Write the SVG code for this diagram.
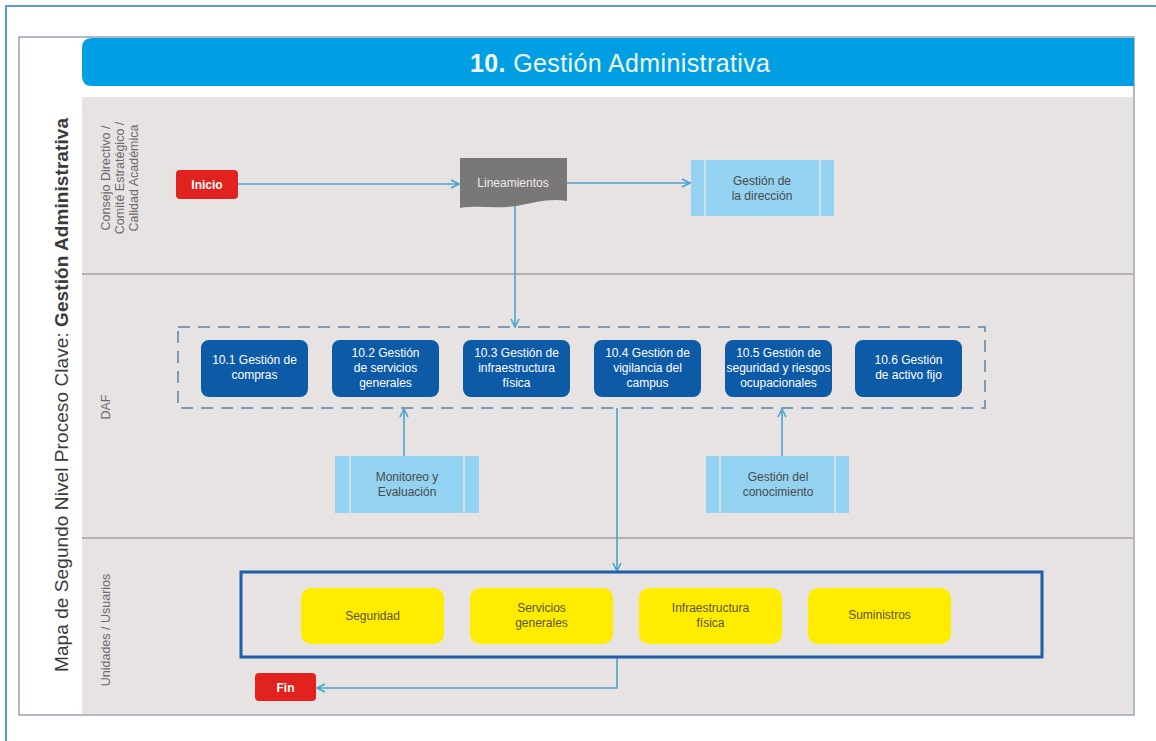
<svg xmlns="http://www.w3.org/2000/svg" width="1156" height="741" viewBox="0 0 1156 741">
  <style>
    text { font-family: "Liberation Sans", Arial, sans-serif; }
    .lane-label { font-size: 12.5px; fill: #6e6a6a; }
    .proc { fill: #0d5aa7; }
    .proc-text { font-size: 12px; fill: #ffffff; text-anchor: middle; }
    .sub { fill: #93d2f1; }
    .sub-line { stroke: #e6e3e2; stroke-width: 1.5; }
    .sub-text { font-size: 12px; fill: #4a4a4a; text-anchor: middle; }
    .unit { fill: #ffec00; }
    .unit-text { font-size: 12px; fill: #5c5430; text-anchor: middle; }
    .term { fill: #e2221f; }
    .term-text { font-size: 12px; font-weight: bold; fill: #ffffff; text-anchor: middle; }
    .flow { stroke: #4ba3d2; stroke-width: 1.6; fill: none; }
    .lane-sep { stroke: #a59f9e; stroke-width: 1.5; }
  </style>
  <defs>
    <marker id="arrow" viewBox="0 0 10 10" refX="9" refY="5" markerWidth="10" markerHeight="10" markerUnits="userSpaceOnUse" orient="auto">
      <path d="M1,1 L9,5 L1,9" fill="none" stroke="#4ba3d2" stroke-width="1.6"/>
    </marker>
  </defs>

  <!-- page background and outer frame -->
  <rect x="0" y="0" width="1156" height="741" fill="#ffffff"/>
  <path d="M6,741 V6 H1156" fill="none" stroke="#5b9bd5" stroke-width="2"/>

  <!-- sheet -->
  <rect x="19" y="37" width="1115" height="678" fill="#ffffff" stroke="#7d8c99" stroke-width="1.2"/>

  <!-- title bar -->
  <g id="title">
    <path d="M92,38 H1134 V86 H92 Q82,86 82,76 V48 Q82,38 92,38 Z" fill="#009fe3"/>
    <text x="620" y="72" font-size="25" fill="#eef8fd" text-anchor="middle" textLength="300"><tspan font-weight="bold">10.</tspan> Gestión Administrativa</text>
  </g>

  <!-- swimlane body -->
  <rect x="82" y="97" width="1051" height="617" fill="#e6e3e2"/>
  <line class="lane-sep" x1="82" y1="274" x2="1133" y2="274"/>
  <line class="lane-sep" x1="82" y1="538" x2="1133" y2="538"/>

  <!-- side title -->
  <text transform="translate(68,395) rotate(-90)" font-size="19" fill="#3a3a3a" text-anchor="middle" textLength="554">Mapa de Segundo Nivel Proceso Clave: <tspan font-weight="bold">Gestión Administrativa</tspan></text>

  <!-- lane labels -->
  <g id="lane-labels">
    <text class="lane-label" transform="translate(110,178) rotate(-90)" text-anchor="middle">Consejo Directivo /</text>
    <text class="lane-label" transform="translate(124,178) rotate(-90)" text-anchor="middle">Comité Estratégico /</text>
    <text class="lane-label" transform="translate(138,178) rotate(-90)" text-anchor="middle">Calidad Académica</text>
    <text class="lane-label" transform="translate(110,407) rotate(-90)" text-anchor="middle">DAF</text>
    <text class="lane-label" transform="translate(110,630) rotate(-90)" text-anchor="middle">Unidades / Usuarios</text>
  </g>

  <!-- connectors -->
  <g id="connectors">
    <line class="flow" x1="238" y1="184" x2="459" y2="184" marker-end="url(#arrow)"/>
    <line class="flow" x1="567" y1="183" x2="690" y2="183" marker-end="url(#arrow)"/>
    <line class="flow" x1="515" y1="206" x2="515" y2="327" marker-end="url(#arrow)"/>
    <line class="flow" x1="404" y1="456" x2="404" y2="409" marker-end="url(#arrow)"/>
    <line class="flow" x1="782" y1="456" x2="782" y2="409" marker-end="url(#arrow)"/>
    <line class="flow" x1="617" y1="408" x2="617" y2="571" marker-end="url(#arrow)"/>
    <polyline class="flow" points="617,658 617,688 317,688" marker-end="url(#arrow)"/>
  </g>

  <!-- start -->
  <g id="inicio">
    <rect class="term" x="176" y="170" width="62" height="29" rx="4"/>
    <text class="term-text" x="207" y="189">Inicio</text>
  </g>

  <!-- guidelines document -->
  <g id="lineamientos">
    <path d="M460,158 H567 V201 C548,198 535,203 516,206 C495,209 478,205 460,208 Z" fill="#7a7777"/>
    <text x="513" y="187" font-size="12" fill="#eeeeee" text-anchor="middle">Lineamientos</text>
  </g>

  <!-- management of direction -->
  <g id="gestion-direccion">
    <rect class="sub" x="691" y="160" width="143" height="56"/>
    <line class="sub-line" x1="705" y1="160" x2="705" y2="216"/>
    <line class="sub-line" x1="820" y1="160" x2="820" y2="216"/>
    <text class="sub-text" x="762" y="185">Gestión de</text>
    <text class="sub-text" x="762" y="200">la dirección</text>
  </g>

  <!-- DAF sub-process group -->
  <rect id="daf-group" x="178" y="327" width="807" height="81" fill="none" stroke="#7d9bb6" stroke-width="2" stroke-dasharray="12,8"/>

  <g id="p10-1">
    <rect class="proc" x="201" y="340" width="107" height="57" rx="8"/>
    <text class="proc-text" x="254.5" y="364">10.1 Gestión de</text>
    <text class="proc-text" x="254.5" y="379">compras</text>
  </g>
  <g id="p10-2">
    <rect class="proc" x="332" y="340" width="107" height="57" rx="8"/>
    <text class="proc-text" x="385.5" y="357">10.2 Gestión</text>
    <text class="proc-text" x="385.5" y="372">de servicios</text>
    <text class="proc-text" x="385.5" y="387">generales</text>
  </g>
  <g id="p10-3">
    <rect class="proc" x="463" y="340" width="107" height="57" rx="8"/>
    <text class="proc-text" x="516.5" y="357">10.3 Gestión de</text>
    <text class="proc-text" x="516.5" y="372">infraestructura</text>
    <text class="proc-text" x="516.5" y="387">física</text>
  </g>
  <g id="p10-4">
    <rect class="proc" x="594" y="340" width="107" height="57" rx="8"/>
    <text class="proc-text" x="647.5" y="357">10.4 Gestión de</text>
    <text class="proc-text" x="647.5" y="372">vigilancia del</text>
    <text class="proc-text" x="647.5" y="387">campus</text>
  </g>
  <g id="p10-5">
    <rect class="proc" x="725" y="340" width="107" height="57" rx="8"/>
    <text class="proc-text" x="778.5" y="357">10.5 Gestión de</text>
    <text class="proc-text" x="778.5" y="372" textLength="104">seguridad y riesgos</text>
    <text class="proc-text" x="778.5" y="387">ocupacionales</text>
  </g>
  <g id="p10-6">
    <rect class="proc" x="855" y="340" width="107" height="57" rx="8"/>
    <text class="proc-text" x="908.5" y="364">10.6 Gestión</text>
    <text class="proc-text" x="908.5" y="379">de activo fijo</text>
  </g>

  <!-- supporting processes -->
  <g id="monitoreo">
    <rect class="sub" x="335" y="456" width="144" height="57"/>
    <line class="sub-line" x1="350" y1="456" x2="350" y2="513"/>
    <line class="sub-line" x1="464" y1="456" x2="464" y2="513"/>
    <text class="sub-text" x="407" y="481">Monitoreo y</text>
    <text class="sub-text" x="407" y="496">Evaluación</text>
  </g>
  <g id="conocimiento">
    <rect class="sub" x="706" y="456" width="143" height="57"/>
    <line class="sub-line" x1="720" y1="456" x2="720" y2="513"/>
    <line class="sub-line" x1="835" y1="456" x2="835" y2="513"/>
    <text class="sub-text" x="778" y="481">Gestión del</text>
    <text class="sub-text" x="778" y="496">conocimiento</text>
  </g>

  <!-- units group -->
  <rect id="units-group" x="241" y="572" width="801" height="85" fill="none" stroke="#1f5ea8" stroke-width="3"/>

  <g id="seguridad">
    <rect class="unit" x="301" y="588" width="143" height="56" rx="10"/>
    <text class="unit-text" x="372.5" y="620">Seguridad</text>
  </g>
  <g id="servicios">
    <rect class="unit" x="470" y="588" width="143" height="56" rx="10"/>
    <text class="unit-text" x="541.5" y="612">Servicios</text>
    <text class="unit-text" x="541.5" y="627">generales</text>
  </g>
  <g id="infraestructura">
    <rect class="unit" x="639" y="588" width="143" height="56" rx="10"/>
    <text class="unit-text" x="710.5" y="612">Infraestructura</text>
    <text class="unit-text" x="710.5" y="627">física</text>
  </g>
  <g id="suministros">
    <rect class="unit" x="808" y="588" width="143" height="56" rx="10"/>
    <text class="unit-text" x="879.5" y="619">Suministros</text>
  </g>

  <!-- end -->
  <g id="fin">
    <rect class="term" x="255" y="673" width="61" height="28" rx="4"/>
    <text class="term-text" x="285.5" y="692">Fin</text>
  </g>
</svg>
